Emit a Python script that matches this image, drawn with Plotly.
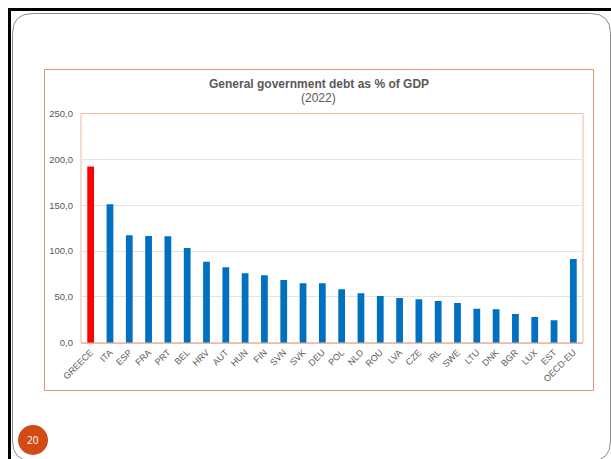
import plotly.graph_objects as go

countries = ["GREECE", "ITA", "ESP", "FRA", "PRT", "BEL", "HRV", "AUT", "HUN", "FIN",
             "SVN", "SVK", "DEU", "POL", "NLD", "ROU", "LVA", "CZE", "IRL", "SWE",
             "LTU", "DNK", "BGR", "LUX", "EST", "OECD-EU"]
debt = [192.1, 151.1, 117.2, 116.5, 116.1, 103.4, 88.4, 82.3, 75.8, 73.6,
        68.4, 64.8, 64.8, 58.3, 53.9, 51.0, 48.8, 47.4, 45.5, 43.3,
        37.1, 36.5, 31.4, 28.1, 24.5, 91.4]
bar_colors = ["#FF0000"] + ["#0070C0"] * (len(countries) - 1)
y_ticks = [0, 50, 100, 150, 200, 250]
y_tick_labels = ["0,0", "50,0", "100,0", "150,0", "200,0", "250,0"]
title_text = "General government debt as % of GDP"
subtitle_text = "(2022)"
slide_number = "20"

W, H = 611, 459


def px(x):
    return x / W


def py(y):
    return 1 - y / H


fig = go.Figure(go.Bar(
    x=countries, y=debt, marker=dict(color=bar_colors, line=dict(width=0)),
    hoverinfo="x+y"))

PL, PR, PT, PB = 81, 583, 113.5, 342.7

fig.update_layout(
    width=W, height=H, margin=dict(l=0, r=0, t=0, b=0, pad=0, autoexpand=False),
    paper_bgcolor="white", plot_bgcolor="white", showlegend=False,
    bargap=0.65,
    xaxis=dict(domain=[px(PL), px(PR)], showgrid=False, showline=True, automargin=False,
               linecolor="#EDBBA8", linewidth=1, tickangle=-45, ticks="",
               tickfont=dict(family="Liberation Sans", size=9, color="#595959"),
               fixedrange=True),
    yaxis=dict(domain=[py(PB), py(PT)], range=[0, 250], tickvals=y_ticks, automargin=False,
               ticktext=y_tick_labels, showgrid=True, gridcolor="#E3E3E3",
               gridwidth=1, zeroline=False, showline=False, ticks="",
               ticklabelstandoff=7,
               tickfont=dict(family="Liberation Sans", size=9.5, color="#595959"),
               fixedrange=True),
)

shapes = []
# slide black edges
shapes.append(dict(type="line", xref="paper", yref="paper", x0=px(8), x1=px(612),
                   y0=py(9.5), y1=py(9.5), line=dict(color="black", width=3)))
shapes.append(dict(type="line", xref="paper", yref="paper", x0=px(9.5), x1=px(9.5),
                   y0=py(8), y1=py(460), line=dict(color="black", width=3)))
# rounded grey slide frame
x0, y0, x1, y1, r = 12.5, 13.5, 610.5, 461, 20
path = (f"M {px(x0 + r)},{py(y0)} L {px(x1 - r)},{py(y0)} "
        f"Q {px(x1)},{py(y0)} {px(x1)},{py(y0 + r)} L {px(x1)},{py(y1 - r)} "
        f"Q {px(x1)},{py(y1)} {px(x1 - r)},{py(y1)} L {px(x0 + r)},{py(y1)} "
        f"Q {px(x0)},{py(y1)} {px(x0)},{py(y1 - r)} L {px(x0)},{py(y0 + r)} "
        f"Q {px(x0)},{py(y0)} {px(x0 + r)},{py(y0)} Z")
shapes.append(dict(type="path", xref="paper", yref="paper", path=path,
                   line=dict(color="#8C8C8C", width=1), layer="below"))
# chart border
shapes.append(dict(type="rect", xref="paper", yref="paper", x0=px(44.5), x1=px(593.5),
                   y0=py(390.5), y1=py(69.5), line=dict(color="#E0957A", width=1), layer="below"))
# plot-area frame
shapes.append(dict(type="rect", xref="paper", yref="paper", x0=px(PL), x1=px(PR),
                   y0=py(PB), y1=py(PT), line=dict(color="#EDBBA8", width=1), layer="below"))
# slide number circle
shapes.append(dict(type="circle", xref="paper", yref="paper", x0=px(18), x1=px(48),
                   y0=py(425), y1=py(455), fillcolor="#D24B17", line=dict(width=0),
                   layer="below"))
fig.update_layout(shapes=shapes)

fig.add_annotation(xref="paper", yref="paper", x=px(318.5), y=py(84), text=f"<b>{title_text}</b>",
                   xanchor="center", yanchor="middle", showarrow=False,
                   font=dict(family="Liberation Sans", size=12, color="#595959"))
fig.add_annotation(xref="paper", yref="paper", x=px(318.5), y=py(97.5), text=subtitle_text,
                   xanchor="center", yanchor="middle", showarrow=False,
                   font=dict(family="Liberation Sans", size=12, color="#595959"))
fig.add_annotation(xref="paper", yref="paper", x=px(33), y=py(440), text=slide_number,
                   xanchor="center", yanchor="middle", showarrow=False,
                   font=dict(family="Open Sans", size=10, color="white"))

fig.write_html("out.html", config={"displayModeBar": False},
               post_script="document.body.style.margin='0';document.body.style.overflow='hidden';")
